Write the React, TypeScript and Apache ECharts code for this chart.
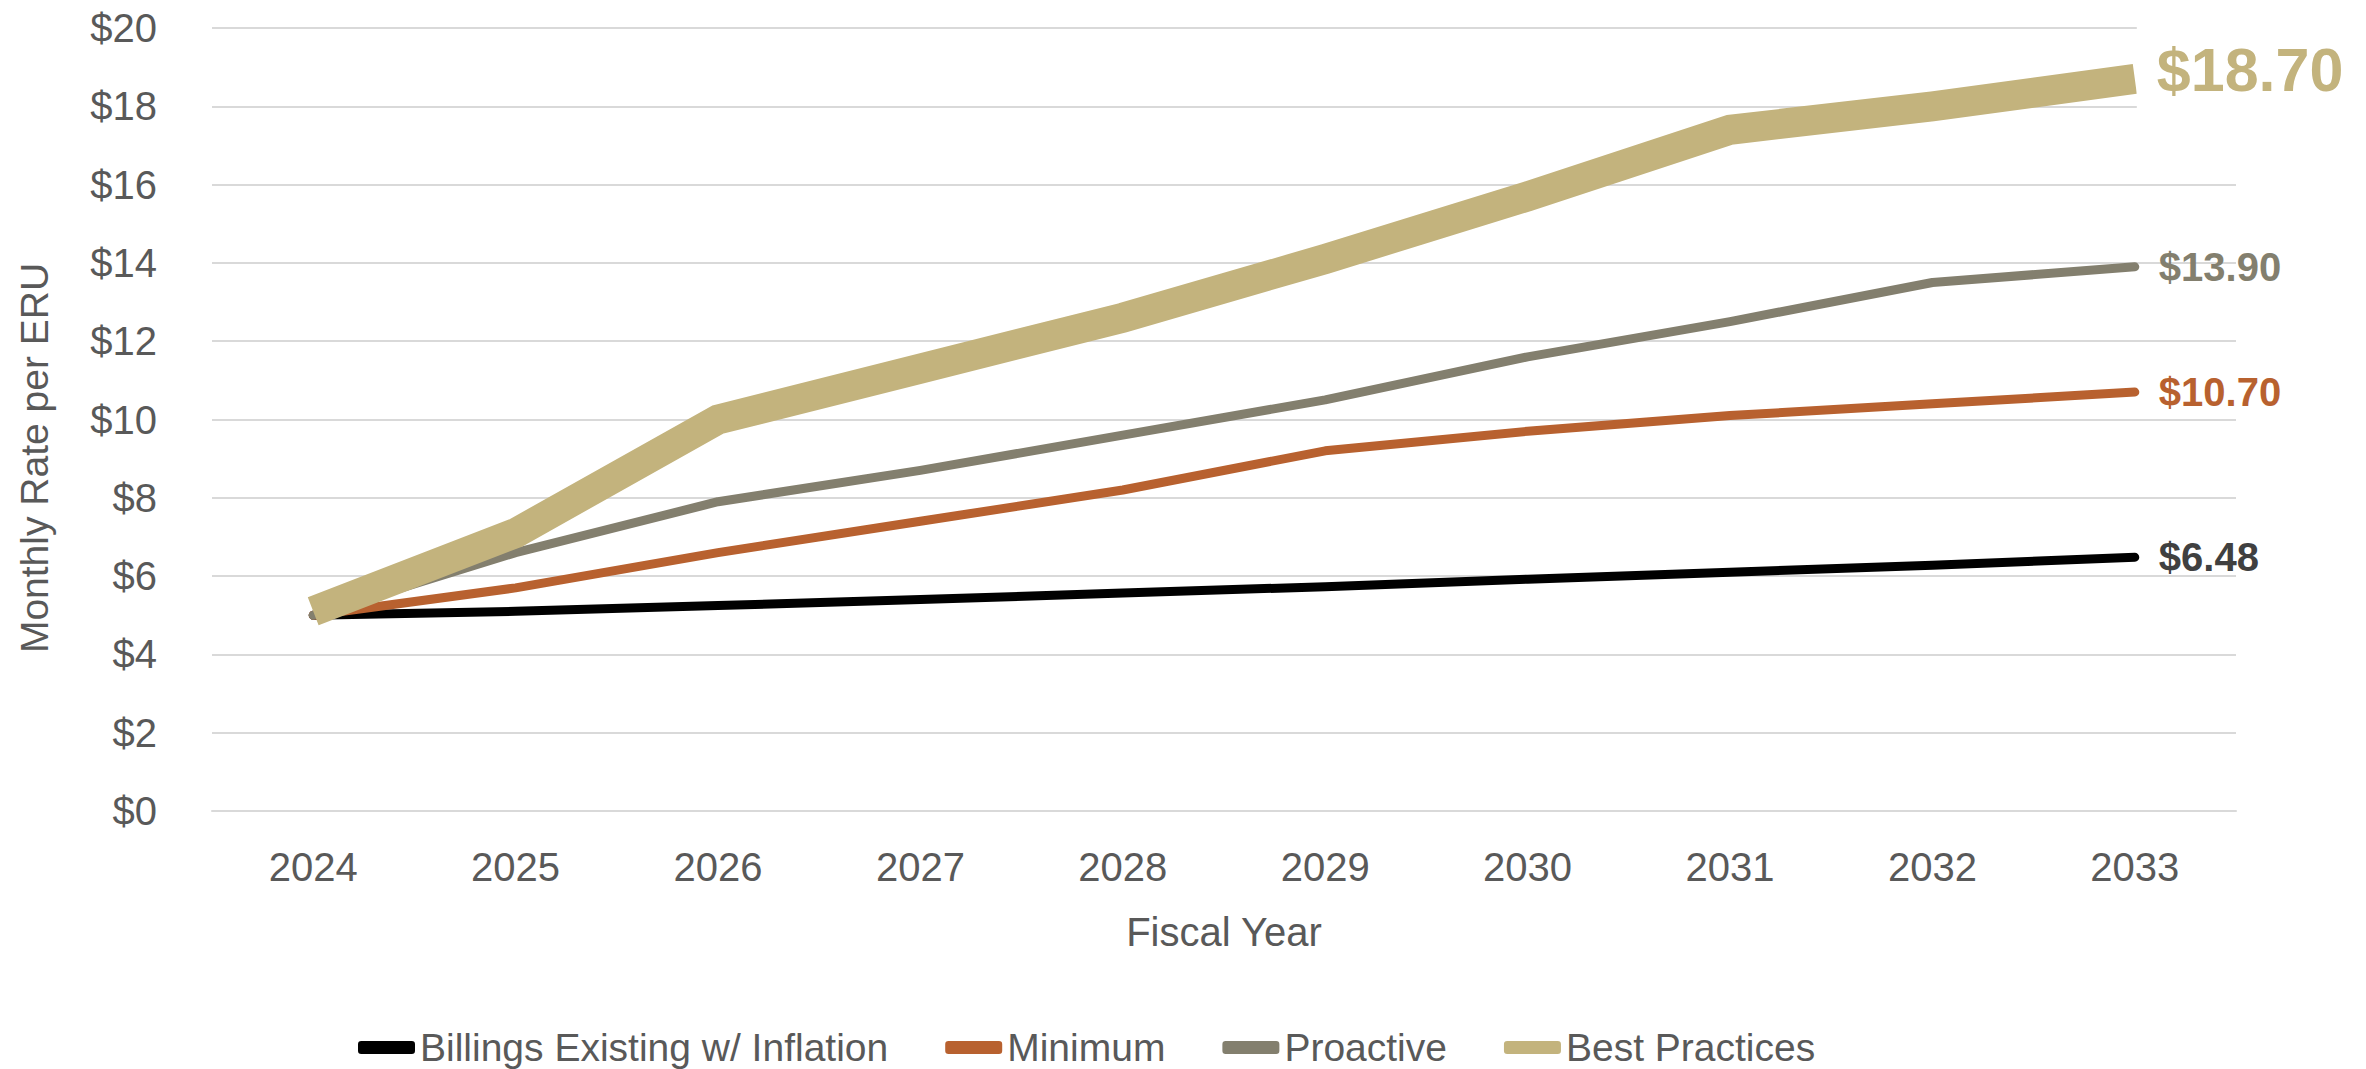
import React, { useEffect, useRef } from "react";
import * as echarts from "echarts";

// Fiscal years on the category axis
const fiscalYears = ["2024", "2025", "2026", "2027", "2028", "2029", "2030", "2031", "2032", "2033"];

// Monthly rate per ERU for each scenario ($)
const billingsExisting = [5.0, 5.1, 5.25, 5.4, 5.57, 5.73, 5.92, 6.1, 6.28, 6.48];
const minimumRates = [5.0, 5.7, 6.6, 7.4, 8.2, 9.2, 9.7, 10.1, 10.4, 10.7];
const proactiveRates = [5.0, 6.6, 7.9, 8.7, 9.6, 10.5, 11.6, 12.5, 13.5, 13.9];
const bestPracticeRates = [5.1, 7.1, 10.0, 11.3, 12.6, 14.1, 15.7, 17.4, 18.0, 18.7];

// Y axis range
const yMin = 0;
const yMax = 20;
const yStep = 2;

const seriesNames = ["Billings Existing w/ Inflation", "Minimum", "Proactive", "Best Practices"];

const FONT = '"Liberation Sans", Arial, sans-serif';
const TEXT_GRAY = "#595959";
const BASE_SIZE = 40;

const COLORS = {
  billings: "#000000",
  minimum: "#B8612F",
  proactive: "#837F6E",
  best: "#C3B37D",
};

const money = (v: number) => "$" + v.toFixed(2);

export default function App() {
  const ref = useRef<HTMLDivElement>(null);

  useEffect(() => {
    if (!ref.current) return;
    const chart = echarts.init(ref.current, null, { renderer: "svg" });

    const thinLine = (name: string, data: number[], color: string, labelColor: string) => ({
      name,
      type: "line",
      data,
      showSymbol: false,
      symbol: "none",
      color,
      lineStyle: { color, width: 9, cap: "round", join: "round" },
      endLabel: {
        show: true,
        distance: 24,
        formatter: (p: any) => money(p.value),
        color: labelColor,
        fontFamily: FONT,
        fontWeight: "bold",
        fontSize: 40,
      },
      emphasis: { disabled: true },
    });

    chart.setOption({
      animation: false,
      backgroundColor: "#ffffff",
      grid: { left: 212, right: 130, top: 28, bottom: 258 },
      xAxis: {
        type: "category",
        data: fiscalYears,
        boundaryGap: true,
        axisTick: { show: false },
        axisLine: { show: true, lineStyle: { color: "#d9d9d9", width: 2 } },
        axisLabel: { color: TEXT_GRAY, fontSize: BASE_SIZE, fontFamily: FONT, margin: 36 },
        name: "Fiscal Year",
        nameLocation: "middle",
        nameGap: 101,
        nameTextStyle: { color: TEXT_GRAY, fontSize: BASE_SIZE, fontFamily: FONT },
      },
      yAxis: {
        type: "value",
        min: yMin,
        max: yMax,
        interval: yStep,
        axisLine: { show: false },
        axisTick: { show: false },
        splitLine: { lineStyle: { color: "#d9d9d9", width: 2 } },
        axisLabel: {
          color: TEXT_GRAY,
          fontSize: BASE_SIZE,
          fontFamily: FONT,
          margin: 55,
          formatter: (v: number) => "$" + v,
        },
      },
      legend: {
        data: seriesNames,
        left: 353,
        top: 1023,
        icon: "roundRect",
        itemWidth: 57,
        itemHeight: 13,
        itemGap: 57,
        textStyle: { color: TEXT_GRAY, fontSize: 39, fontFamily: FONT },
      },
      graphic: [
        {
          type: "text",
          x: 34,
          y: 458,
          rotation: Math.PI / 2,
          style: {
            text: "Monthly Rate per ERU",
            fill: TEXT_GRAY,
            fontSize: 39,
            fontFamily: FONT,
            textAlign: "center",
            textVerticalAlign: "middle",
          },
        },
      ],
      series: [
        thinLine(seriesNames[0], billingsExisting, COLORS.billings, "#404040"),
        thinLine(seriesNames[1], minimumRates, COLORS.minimum, COLORS.minimum),
        thinLine(seriesNames[2], proactiveRates, COLORS.proactive, COLORS.proactive),
        {
          name: seriesNames[3],
          type: "line",
          data: bestPracticeRates,
          showSymbol: false,
          symbol: "none",
          color: COLORS.best,
          lineStyle: { color: COLORS.best, width: 30, cap: "butt", join: "miter" },
          endLabel: {
            show: true,
            distance: 2,
            offset: [0, -9],
            formatter: (p: any) => money(p.value),
            color: COLORS.best,
            fontFamily: FONT,
            fontWeight: "bold",
            fontSize: 61,
            lineHeight: 60,
            backgroundColor: "#ffffff",
            padding: [14, 6, 14, 20],
          },
          emphasis: { disabled: true },
        },
      ],
    });

    return () => chart.dispose();
  }, []);

  return (
    <div
      ref={ref}
      style={{ position: "fixed", left: 0, top: 0, width: 2366, height: 1069 }}
    />
  );
}
